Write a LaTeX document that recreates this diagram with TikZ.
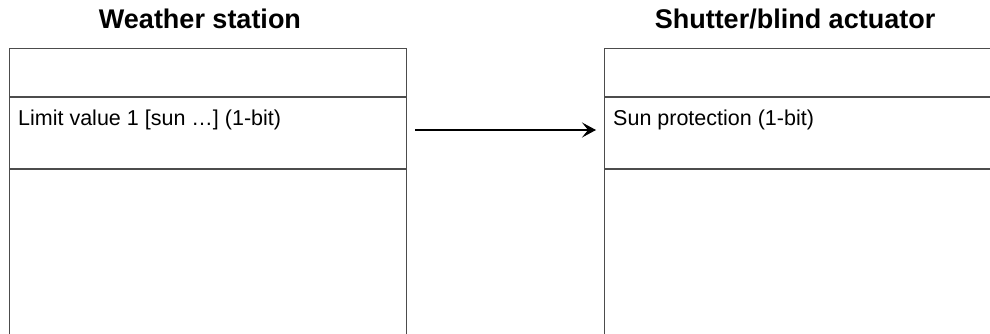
\documentclass[tikz,border=0pt]{standalone}
\usepackage{fontspec}
\setmainfont{Liberation Sans}
\usepackage{tikz}
\usetikzlibrary{positioning, arrows.meta}

\begin{document}
\begin{tikzpicture}[x=1pt, y=-1pt,
  row/.style={rectangle, draw=black!70, line width=1pt, minimum width=397pt,
    inner sep=0pt, anchor=north west},
  title/.style={font=\fontsize{27}{30}\selectfont\bfseries, inner sep=0pt, xshift=-8pt},
  entry/.style={font=\fontsize{21.5}{26}\selectfont, inner sep=0pt},
  link/.style={-{Stealth[length=14pt, width=15pt, inset=6pt]}, line width=1.1pt,
    shorten <=8pt, shorten >=8pt}
]
  \clip (0,0) rectangle (990,334);
  % weather station
  \node[row, minimum height=48pt] (ws1) at (9,48) {};
  \node[row, minimum height=71pt] (ws2) at (ws1.south west) {};
  \node[row, minimum height=200pt] (ws3) at (ws2.south west) {};
  \node[title, above=19pt of ws1.north] (wst) {Weather station};
  \node[entry, below right=13pt and 9pt of ws2.north west] (ws2t) {Limit value 1 [sun …] (1-bit)};

  % shutter/blind actuator
  \node[row, minimum height=48pt] (sb1) at (604,48) {};
  \node[row, minimum height=71pt] (sb2) at (sb1.south west) {};
  \node[row, minimum height=200pt] (sb3) at (sb2.south west) {};
  \node[title, above=19pt of sb1.north] (sbt) {Shutter/blind actuator};
  \node[entry, below right=13pt and 9pt of sb2.north west] (sb2t) {Sun protection (1-bit)};

  \draw[link] ([yshift=3pt]ws2.east) -- ([yshift=3pt]sb2.west);
\end{tikzpicture}
\end{document}
